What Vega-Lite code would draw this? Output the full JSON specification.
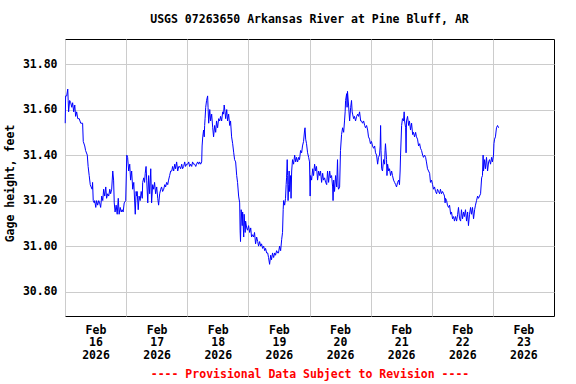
{
"$schema": "https://vega.github.io/schema/vega-lite/v6.json",
"width": 489, "height": 277,
"autosize": {"type": "none"},
"padding": {"left": 65, "top": 39, "right": 22, "bottom": 68},
"background": "white",
"title": {"text": "USGS 07263650 Arkansas River at Pine Bluff, AR", "font": "DejaVu Sans Mono", "fontSize": 11.5, "fontWeight": "bold", "color": "black", "offset": 14, "anchor": "middle"},
"config": {"view": {"stroke": "black", "strokeWidth": 1}},
"data": {"values": [
{"t":"2026-02-16T00:05","v":31.54},{"t":"2026-02-16T00:15","v":31.66},{"t":"2026-02-16T00:40","v":31.66},{"t":"2026-02-16T01:05","v":31.69},{"t":"2026-02-16T01:15","v":31.64},{"t":"2026-02-16T01:25","v":31.59},{"t":"2026-02-16T01:50","v":31.64},{"t":"2026-02-16T02:15","v":31.63},{"t":"2026-02-16T02:40","v":31.61},{"t":"2026-02-16T03:00","v":31.63},{"t":"2026-02-16T03:25","v":31.59},{"t":"2026-02-16T03:50","v":31.62},{"t":"2026-02-16T04:10","v":31.57},{"t":"2026-02-16T04:35","v":31.59},{"t":"2026-02-16T05:00","v":31.56},{"t":"2026-02-16T05:35","v":31.56},{"t":"2026-02-16T06:10","v":31.54},{"t":"2026-02-16T06:55","v":31.54},{"t":"2026-02-16T07:10","v":31.46},{"t":"2026-02-16T07:45","v":31.44},{"t":"2026-02-16T08:05","v":31.42},{"t":"2026-02-16T08:45","v":31.40},{"t":"2026-02-16T09:05","v":31.35},{"t":"2026-02-16T09:30","v":31.31},{"t":"2026-02-16T09:55","v":31.27},{"t":"2026-02-16T10:15","v":31.26},{"t":"2026-02-16T10:40","v":31.25},{"t":"2026-02-16T10:50","v":31.28},{"t":"2026-02-16T11:05","v":31.20},{"t":"2026-02-16T11:30","v":31.19},{"t":"2026-02-16T11:40","v":31.20},{"t":"2026-02-16T12:05","v":31.17},{"t":"2026-02-16T12:25","v":31.20},{"t":"2026-02-16T12:50","v":31.18},{"t":"2026-02-16T13:15","v":31.20},{"t":"2026-02-16T13:35","v":31.19},{"t":"2026-02-16T14:00","v":31.17},{"t":"2026-02-16T14:25","v":31.22},{"t":"2026-02-16T14:50","v":31.20},{"t":"2026-02-16T15:10","v":31.25},{"t":"2026-02-16T15:35","v":31.22},{"t":"2026-02-16T16:00","v":31.26},{"t":"2026-02-16T16:20","v":31.21},{"t":"2026-02-16T16:45","v":31.23},{"t":"2026-02-16T17:10","v":31.22},{"t":"2026-02-16T17:35","v":31.25},{"t":"2026-02-16T17:55","v":31.23},{"t":"2026-02-16T18:20","v":31.25},{"t":"2026-02-16T18:45","v":31.33},{"t":"2026-02-16T19:05","v":31.29},{"t":"2026-02-16T19:20","v":31.19},{"t":"2026-02-16T19:40","v":31.15},{"t":"2026-02-16T20:05","v":31.18},{"t":"2026-02-16T20:30","v":31.14},{"t":"2026-02-16T20:55","v":31.21},{"t":"2026-02-16T21:15","v":31.14},{"t":"2026-02-16T21:40","v":31.17},{"t":"2026-02-16T22:05","v":31.15},{"t":"2026-02-16T22:25","v":31.16},{"t":"2026-02-16T22:50","v":31.15},{"t":"2026-02-16T23:15","v":31.19},{"t":"2026-02-16T23:50","v":31.20},
{"t":"2026-02-17T00:15","v":31.40},{"t":"2026-02-17T00:35","v":31.39},{"t":"2026-02-17T01:00","v":31.33},{"t":"2026-02-17T01:25","v":31.36},{"t":"2026-02-17T01:45","v":31.29},{"t":"2026-02-17T02:10","v":31.33},{"t":"2026-02-17T02:35","v":31.25},{"t":"2026-02-17T03:00","v":31.28},{"t":"2026-02-17T03:35","v":31.14},{"t":"2026-02-17T03:55","v":31.24},{"t":"2026-02-17T04:10","v":31.22},{"t":"2026-02-17T04:20","v":31.24},{"t":"2026-02-17T04:45","v":31.16},{"t":"2026-02-17T05:05","v":31.22},{"t":"2026-02-17T05:30","v":31.20},{"t":"2026-02-17T05:55","v":31.24},{"t":"2026-02-17T06:20","v":31.21},{"t":"2026-02-17T06:30","v":31.28},{"t":"2026-02-17T06:55","v":31.30},{"t":"2026-02-17T07:15","v":31.28},{"t":"2026-02-17T07:30","v":31.32},{"t":"2026-02-17T07:50","v":31.35},{"t":"2026-02-17T08:05","v":31.29},{"t":"2026-02-17T08:30","v":31.19},{"t":"2026-02-17T08:50","v":31.31},{"t":"2026-02-17T09:15","v":31.23},{"t":"2026-02-17T09:40","v":31.34},{"t":"2026-02-17T10:00","v":31.19},{"t":"2026-02-17T10:25","v":31.27},{"t":"2026-02-17T10:50","v":31.25},{"t":"2026-02-17T11:10","v":31.28},{"t":"2026-02-17T11:35","v":31.23},{"t":"2026-02-17T12:00","v":31.26},{"t":"2026-02-17T12:25","v":31.21},{"t":"2026-02-17T12:45","v":31.18},{"t":"2026-02-17T13:10","v":31.23},{"t":"2026-02-17T13:35","v":31.25},{"t":"2026-02-17T13:55","v":31.26},{"t":"2026-02-17T14:20","v":31.24},{"t":"2026-02-17T14:45","v":31.25},{"t":"2026-02-17T15:10","v":31.27},{"t":"2026-02-17T15:30","v":31.26},{"t":"2026-02-17T15:55","v":31.28},{"t":"2026-02-17T16:20","v":31.27},{"t":"2026-02-17T16:40","v":31.29},{"t":"2026-02-17T17:05","v":31.31},{"t":"2026-02-17T17:30","v":31.33},{"t":"2026-02-17T17:55","v":31.33},{"t":"2026-02-17T18:15","v":31.35},{"t":"2026-02-17T18:40","v":31.33},{"t":"2026-02-17T19:05","v":31.36},{"t":"2026-02-17T19:25","v":31.34},{"t":"2026-02-17T19:50","v":31.37},{"t":"2026-02-17T20:15","v":31.33},{"t":"2026-02-17T20:40","v":31.35},{"t":"2026-02-17T21:00","v":31.35},{"t":"2026-02-17T21:25","v":31.34},{"t":"2026-02-17T21:50","v":31.36},{"t":"2026-02-17T22:10","v":31.34},{"t":"2026-02-17T22:35","v":31.35},{"t":"2026-02-17T23:00","v":31.37},{"t":"2026-02-17T23:20","v":31.35},{"t":"2026-02-17T23:45","v":31.36},
{"t":"2026-02-18T00:10","v":31.36},{"t":"2026-02-18T00:35","v":31.37},{"t":"2026-02-18T00:55","v":31.35},{"t":"2026-02-18T01:20","v":31.36},{"t":"2026-02-18T01:45","v":31.35},{"t":"2026-02-18T02:05","v":31.37},{"t":"2026-02-18T02:30","v":31.36},{"t":"2026-02-18T02:55","v":31.36},{"t":"2026-02-18T03:20","v":31.35},{"t":"2026-02-18T03:40","v":31.36},{"t":"2026-02-18T04:05","v":31.37},{"t":"2026-02-18T04:30","v":31.36},{"t":"2026-02-18T04:50","v":31.37},{"t":"2026-02-18T05:15","v":31.36},{"t":"2026-02-18T05:40","v":31.37},{"t":"2026-02-18T05:50","v":31.44},{"t":"2026-02-18T06:05","v":31.48},{"t":"2026-02-18T06:25","v":31.51},{"t":"2026-02-18T06:40","v":31.48},{"t":"2026-02-18T06:50","v":31.53},{"t":"2026-02-18T07:00","v":31.56},{"t":"2026-02-18T07:15","v":31.61},{"t":"2026-02-18T07:35","v":31.64},{"t":"2026-02-18T08:00","v":31.66},{"t":"2026-02-18T08:10","v":31.61},{"t":"2026-02-18T08:25","v":31.54},{"t":"2026-02-18T08:50","v":31.60},{"t":"2026-02-18T09:10","v":31.55},{"t":"2026-02-18T09:35","v":31.58},{"t":"2026-02-18T10:00","v":31.52},{"t":"2026-02-18T10:20","v":31.48},{"t":"2026-02-18T10:45","v":31.53},{"t":"2026-02-18T11:10","v":31.50},{"t":"2026-02-18T11:30","v":31.55},{"t":"2026-02-18T11:55","v":31.52},{"t":"2026-02-18T12:20","v":31.56},{"t":"2026-02-18T12:45","v":31.55},{"t":"2026-02-18T13:05","v":31.57},{"t":"2026-02-18T13:30","v":31.55},{"t":"2026-02-18T13:55","v":31.59},{"t":"2026-02-18T14:15","v":31.58},{"t":"2026-02-18T14:30","v":31.62},{"t":"2026-02-18T14:50","v":31.59},{"t":"2026-02-18T15:05","v":31.56},{"t":"2026-02-18T15:30","v":31.60},{"t":"2026-02-18T15:50","v":31.55},{"t":"2026-02-18T16:15","v":31.58},{"t":"2026-02-18T16:40","v":31.53},{"t":"2026-02-18T17:00","v":31.55},{"t":"2026-02-18T17:25","v":31.48},{"t":"2026-02-18T17:50","v":31.45},{"t":"2026-02-18T18:15","v":31.41},{"t":"2026-02-18T18:35","v":31.38},{"t":"2026-02-18T19:00","v":31.37},{"t":"2026-02-18T19:25","v":31.31},{"t":"2026-02-18T19:45","v":31.28},{"t":"2026-02-18T20:10","v":31.22},{"t":"2026-02-18T20:35","v":31.19},{"t":"2026-02-18T20:45","v":31.07},{"t":"2026-02-18T20:55","v":31.02},{"t":"2026-02-18T21:10","v":31.16},{"t":"2026-02-18T21:35","v":31.09},{"t":"2026-02-18T21:45","v":31.15},{"t":"2026-02-18T22:10","v":31.04},{"t":"2026-02-18T22:20","v":31.14},{"t":"2026-02-18T22:45","v":31.06},{"t":"2026-02-18T22:55","v":31.11},{"t":"2026-02-18T23:20","v":31.08},{"t":"2026-02-18T23:40","v":31.07},
{"t":"2026-02-19T00:05","v":31.09},{"t":"2026-02-19T00:30","v":31.06},{"t":"2026-02-19T00:55","v":31.08},{"t":"2026-02-19T01:15","v":31.04},{"t":"2026-02-19T01:40","v":31.05},{"t":"2026-02-19T02:05","v":31.04},{"t":"2026-02-19T02:25","v":31.06},{"t":"2026-02-19T02:50","v":31.01},{"t":"2026-02-19T03:15","v":31.04},{"t":"2026-02-19T03:40","v":31.02},{"t":"2026-02-19T04:00","v":31.00},{"t":"2026-02-19T04:25","v":31.02},{"t":"2026-02-19T04:50","v":31.00},{"t":"2026-02-19T05:10","v":31.01},{"t":"2026-02-19T05:35","v":30.99},{"t":"2026-02-19T06:00","v":31.00},{"t":"2026-02-19T06:25","v":30.98},{"t":"2026-02-19T06:45","v":30.99},{"t":"2026-02-19T07:10","v":30.97},{"t":"2026-02-19T07:35","v":30.97},{"t":"2026-02-19T07:55","v":30.95},{"t":"2026-02-19T08:20","v":30.92},{"t":"2026-02-19T08:45","v":30.96},{"t":"2026-02-19T09:05","v":30.94},{"t":"2026-02-19T09:30","v":30.97},{"t":"2026-02-19T09:55","v":30.95},{"t":"2026-02-19T10:20","v":30.97},{"t":"2026-02-19T10:40","v":30.96},{"t":"2026-02-19T11:05","v":30.98},{"t":"2026-02-19T11:30","v":30.97},{"t":"2026-02-19T11:50","v":30.97},{"t":"2026-02-19T12:15","v":31.00},{"t":"2026-02-19T12:40","v":30.98},{"t":"2026-02-19T13:05","v":31.03},{"t":"2026-02-19T13:25","v":31.06},{"t":"2026-02-19T13:40","v":31.16},{"t":"2026-02-19T13:50","v":31.20},{"t":"2026-02-19T14:15","v":31.18},{"t":"2026-02-19T14:35","v":31.21},{"t":"2026-02-19T14:50","v":31.27},{"t":"2026-02-19T15:00","v":31.30},{"t":"2026-02-19T15:15","v":31.38},{"t":"2026-02-19T15:25","v":31.31},{"t":"2026-02-19T15:35","v":31.20},{"t":"2026-02-19T15:50","v":31.27},{"t":"2026-02-19T16:00","v":31.33},{"t":"2026-02-19T16:10","v":31.24},{"t":"2026-02-19T16:35","v":31.31},{"t":"2026-02-19T16:45","v":31.21},{"t":"2026-02-19T17:00","v":31.33},{"t":"2026-02-19T17:20","v":31.38},{"t":"2026-02-19T17:45","v":31.36},{"t":"2026-02-19T18:10","v":31.40},{"t":"2026-02-19T18:35","v":31.37},{"t":"2026-02-19T18:55","v":31.39},{"t":"2026-02-19T19:20","v":31.37},{"t":"2026-02-19T19:45","v":31.39},{"t":"2026-02-19T20:05","v":31.38},{"t":"2026-02-19T20:30","v":31.42},{"t":"2026-02-19T20:55","v":31.41},{"t":"2026-02-19T21:15","v":31.44},{"t":"2026-02-19T21:40","v":31.46},{"t":"2026-02-19T22:05","v":31.51},{"t":"2026-02-19T22:15","v":31.52},{"t":"2026-02-19T22:30","v":31.47},{"t":"2026-02-19T22:50","v":31.45},{"t":"2026-02-19T23:15","v":31.41},{"t":"2026-02-19T23:40","v":31.39},
{"t":"2026-02-20T00:00","v":31.37},{"t":"2026-02-20T00:15","v":31.22},{"t":"2026-02-20T00:25","v":31.31},{"t":"2026-02-20T00:50","v":31.29},{"t":"2026-02-20T01:15","v":31.34},{"t":"2026-02-20T01:35","v":31.31},{"t":"2026-02-20T02:00","v":31.36},{"t":"2026-02-20T02:25","v":31.33},{"t":"2026-02-20T02:45","v":31.35},{"t":"2026-02-20T03:10","v":31.29},{"t":"2026-02-20T03:35","v":31.33},{"t":"2026-02-20T04:00","v":31.31},{"t":"2026-02-20T04:20","v":31.33},{"t":"2026-02-20T04:45","v":31.28},{"t":"2026-02-20T05:10","v":31.32},{"t":"2026-02-20T05:30","v":31.29},{"t":"2026-02-20T05:55","v":31.30},{"t":"2026-02-20T06:20","v":31.28},{"t":"2026-02-20T06:45","v":31.27},{"t":"2026-02-20T07:05","v":31.33},{"t":"2026-02-20T07:30","v":31.28},{"t":"2026-02-20T07:55","v":31.33},{"t":"2026-02-20T08:15","v":31.30},{"t":"2026-02-20T08:40","v":31.31},{"t":"2026-02-20T09:05","v":31.26},{"t":"2026-02-20T09:15","v":31.20},{"t":"2026-02-20T09:30","v":31.29},{"t":"2026-02-20T09:50","v":31.24},{"t":"2026-02-20T10:15","v":31.31},{"t":"2026-02-20T10:40","v":31.26},{"t":"2026-02-20T11:00","v":31.38},{"t":"2026-02-20T11:15","v":31.26},{"t":"2026-02-20T11:25","v":31.25},{"t":"2026-02-20T11:50","v":31.26},{"t":"2026-02-20T12:10","v":31.42},{"t":"2026-02-20T12:35","v":31.49},{"t":"2026-02-20T13:00","v":31.52},{"t":"2026-02-20T13:25","v":31.50},{"t":"2026-02-20T13:45","v":31.55},{"t":"2026-02-20T14:00","v":31.59},{"t":"2026-02-20T14:10","v":31.64},{"t":"2026-02-20T14:35","v":31.67},{"t":"2026-02-20T14:45","v":31.61},{"t":"2026-02-20T14:55","v":31.68},{"t":"2026-02-20T15:20","v":31.62},{"t":"2026-02-20T15:45","v":31.55},{"t":"2026-02-20T16:10","v":31.61},{"t":"2026-02-20T16:30","v":31.64},{"t":"2026-02-20T16:45","v":31.59},{"t":"2026-02-20T16:55","v":31.58},{"t":"2026-02-20T17:20","v":31.56},{"t":"2026-02-20T17:40","v":31.57},{"t":"2026-02-20T18:05","v":31.55},{"t":"2026-02-20T18:30","v":31.57},{"t":"2026-02-20T18:55","v":31.58},{"t":"2026-02-20T19:15","v":31.57},{"t":"2026-02-20T19:40","v":31.59},{"t":"2026-02-20T20:05","v":31.55},{"t":"2026-02-20T20:25","v":31.55},{"t":"2026-02-20T20:50","v":31.54},{"t":"2026-02-20T21:15","v":31.55},{"t":"2026-02-20T21:40","v":31.53},{"t":"2026-02-20T22:00","v":31.52},{"t":"2026-02-20T22:25","v":31.53},{"t":"2026-02-20T22:50","v":31.51},{"t":"2026-02-20T23:10","v":31.48},{"t":"2026-02-20T23:35","v":31.47},{"t":"2026-02-20T23:55","v":31.45},
{"t":"2026-02-21T00:20","v":31.46},{"t":"2026-02-21T00:45","v":31.44},{"t":"2026-02-21T01:10","v":31.43},{"t":"2026-02-21T01:35","v":31.44},{"t":"2026-02-21T01:55","v":31.41},{"t":"2026-02-21T02:20","v":31.40},{"t":"2026-02-21T02:45","v":31.36},{"t":"2026-02-21T03:05","v":31.39},{"t":"2026-02-21T03:30","v":31.40},{"t":"2026-02-21T03:45","v":31.44},{"t":"2026-02-21T03:55","v":31.53},{"t":"2026-02-21T04:05","v":31.42},{"t":"2026-02-21T04:20","v":31.34},{"t":"2026-02-21T04:40","v":31.33},{"t":"2026-02-21T05:05","v":31.38},{"t":"2026-02-21T05:30","v":31.36},{"t":"2026-02-21T05:40","v":31.42},{"t":"2026-02-21T05:50","v":31.45},{"t":"2026-02-21T06:15","v":31.38},{"t":"2026-02-21T06:25","v":31.31},{"t":"2026-02-21T06:40","v":31.36},{"t":"2026-02-21T07:05","v":31.33},{"t":"2026-02-21T07:25","v":31.34},{"t":"2026-02-21T07:50","v":31.31},{"t":"2026-02-21T08:15","v":31.33},{"t":"2026-02-21T08:35","v":31.31},{"t":"2026-02-21T09:00","v":31.29},{"t":"2026-02-21T09:25","v":31.28},{"t":"2026-02-21T09:50","v":31.27},{"t":"2026-02-21T10:10","v":31.26},{"t":"2026-02-21T10:35","v":31.28},{"t":"2026-02-21T11:00","v":31.29},{"t":"2026-02-21T11:20","v":31.27},{"t":"2026-02-21T11:35","v":31.33},{"t":"2026-02-21T11:45","v":31.40},{"t":"2026-02-21T12:10","v":31.53},{"t":"2026-02-21T12:30","v":31.56},{"t":"2026-02-21T12:55","v":31.55},{"t":"2026-02-21T13:10","v":31.59},{"t":"2026-02-21T13:20","v":31.55},{"t":"2026-02-21T13:45","v":31.52},{"t":"2026-02-21T13:55","v":31.41},{"t":"2026-02-21T14:05","v":31.55},{"t":"2026-02-21T14:30","v":31.57},{"t":"2026-02-21T14:55","v":31.53},{"t":"2026-02-21T15:15","v":31.55},{"t":"2026-02-21T15:40","v":31.51},{"t":"2026-02-21T16:05","v":31.54},{"t":"2026-02-21T16:30","v":31.49},{"t":"2026-02-21T16:50","v":31.50},{"t":"2026-02-21T17:15","v":31.48},{"t":"2026-02-21T17:40","v":31.50},{"t":"2026-02-21T18:00","v":31.48},{"t":"2026-02-21T18:25","v":31.47},{"t":"2026-02-21T18:50","v":31.44},{"t":"2026-02-21T19:15","v":31.45},{"t":"2026-02-21T19:35","v":31.43},{"t":"2026-02-21T20:00","v":31.42},{"t":"2026-02-21T20:25","v":31.40},{"t":"2026-02-21T20:45","v":31.39},{"t":"2026-02-21T21:10","v":31.40},{"t":"2026-02-21T21:35","v":31.39},{"t":"2026-02-21T21:55","v":31.37},{"t":"2026-02-21T22:20","v":31.34},{"t":"2026-02-21T22:45","v":31.33},{"t":"2026-02-21T23:10","v":31.32},{"t":"2026-02-21T23:30","v":31.28},{"t":"2026-02-21T23:55","v":31.29},
{"t":"2026-02-22T00:20","v":31.27},{"t":"2026-02-22T00:40","v":31.25},{"t":"2026-02-22T01:05","v":31.26},{"t":"2026-02-22T01:30","v":31.24},{"t":"2026-02-22T01:55","v":31.23},{"t":"2026-02-22T02:15","v":31.25},{"t":"2026-02-22T02:40","v":31.24},{"t":"2026-02-22T03:05","v":31.23},{"t":"2026-02-22T03:25","v":31.25},{"t":"2026-02-22T03:50","v":31.23},{"t":"2026-02-22T04:15","v":31.24},{"t":"2026-02-22T04:40","v":31.23},{"t":"2026-02-22T05:00","v":31.22},{"t":"2026-02-22T05:15","v":31.19},{"t":"2026-02-22T05:25","v":31.21},{"t":"2026-02-22T05:50","v":31.20},{"t":"2026-02-22T06:10","v":31.18},{"t":"2026-02-22T06:35","v":31.17},{"t":"2026-02-22T07:00","v":31.18},{"t":"2026-02-22T07:25","v":31.14},{"t":"2026-02-22T07:45","v":31.15},{"t":"2026-02-22T08:10","v":31.12},{"t":"2026-02-22T08:35","v":31.13},{"t":"2026-02-22T08:55","v":31.11},{"t":"2026-02-22T09:20","v":31.13},{"t":"2026-02-22T09:45","v":31.11},{"t":"2026-02-22T10:10","v":31.14},{"t":"2026-02-22T10:30","v":31.17},{"t":"2026-02-22T10:55","v":31.12},{"t":"2026-02-22T11:20","v":31.11},{"t":"2026-02-22T11:40","v":31.16},{"t":"2026-02-22T12:05","v":31.12},{"t":"2026-02-22T12:30","v":31.15},{"t":"2026-02-22T12:50","v":31.13},{"t":"2026-02-22T13:15","v":31.16},{"t":"2026-02-22T13:40","v":31.11},{"t":"2026-02-22T14:05","v":31.15},{"t":"2026-02-22T14:25","v":31.09},{"t":"2026-02-22T14:50","v":31.14},{"t":"2026-02-22T15:15","v":31.17},{"t":"2026-02-22T15:35","v":31.14},{"t":"2026-02-22T16:00","v":31.17},{"t":"2026-02-22T16:25","v":31.12},{"t":"2026-02-22T16:50","v":31.16},{"t":"2026-02-22T17:10","v":31.18},{"t":"2026-02-22T17:35","v":31.20},{"t":"2026-02-22T18:00","v":31.22},{"t":"2026-02-22T18:20","v":31.21},{"t":"2026-02-22T18:45","v":31.22},{"t":"2026-02-22T19:10","v":31.23},{"t":"2026-02-22T19:35","v":31.30},{"t":"2026-02-22T19:55","v":31.31},{"t":"2026-02-22T20:10","v":31.40},{"t":"2026-02-22T20:20","v":31.33},{"t":"2026-02-22T20:45","v":31.38},{"t":"2026-02-22T21:05","v":31.34},{"t":"2026-02-22T21:30","v":31.39},{"t":"2026-02-22T21:55","v":31.33},{"t":"2026-02-22T22:20","v":31.37},{"t":"2026-02-22T22:40","v":31.38},{"t":"2026-02-22T23:05","v":31.36},{"t":"2026-02-22T23:30","v":31.39},{"t":"2026-02-22T23:50","v":31.37},
{"t":"2026-02-23T00:15","v":31.40},{"t":"2026-02-23T00:25","v":31.45},{"t":"2026-02-23T00:40","v":31.47},{"t":"2026-02-23T01:00","v":31.48},{"t":"2026-02-23T01:25","v":31.52},{"t":"2026-02-23T01:50","v":31.53},{"t":"2026-02-23T02:15","v":31.52}
]},
"mark": {"type": "line", "color": "#0000ff", "strokeWidth": 1, "interpolate": "linear"},
"encoding": {
"x": {"field": "t", "type": "temporal",
 "scale": {"domain": [{"year": 2026, "month": 2, "date": 16}, {"year": 2026, "month": 2, "date": 24}]},
 "axis": {"values": [{"year": 2026, "month": 2, "date": 16}, {"year": 2026, "month": 2, "date": 17}, {"year": 2026, "month": 2, "date": 18}, {"year": 2026, "month": 2, "date": 19}, {"year": 2026, "month": 2, "date": 20}, {"year": 2026, "month": 2, "date": 21}, {"year": 2026, "month": 2, "date": 22}, {"year": 2026, "month": 2, "date": 23}],
  "grid": true, "gridColor": "#cccccc", "gridWidth": 1, "ticks": false, "domain": false,
  "labelOffset": 30.5, "labelFlush": false, "labelOverlap": false, "labelBound": false,
  "labelExpr": "[timeFormat(datum.value, '%b'), timeFormat(datum.value, '%d'), timeFormat(datum.value, '%Y')]",
  "labelFont": "DejaVu Sans Mono", "labelFontSize": 11.5, "labelFontWeight": "bold", "labelColor": "black", "labelPadding": 8, "labelLineHeight": 12.5,
  "title": "---- Provisional Data Subject to Revision ----", "titleColor": "red", "titleFont": "DejaVu Sans Mono", "titleFontSize": 11.5, "titleFontWeight": "bold", "titlePadding": 8}},
"y": {"field": "v", "type": "quantitative",
 "scale": {"domain": [30.693, 31.91], "nice": false, "zero": false},
 "axis": {"values": [30.8, 31.0, 31.2, 31.4, 31.6, 31.8], "format": ".2f",
  "grid": true, "gridColor": "#cccccc", "gridWidth": 1, "ticks": false, "domain": false,
  "labelFont": "DejaVu Sans Mono", "labelFontSize": 11.5, "labelFontWeight": "bold", "labelColor": "black", "labelPadding": 8,
  "title": "Gage height, feet", "titleFont": "DejaVu Sans Mono", "titleFontSize": 11.5, "titleFontWeight": "bold", "titleColor": "black", "titleX": -50, "titleY": 144}}
}
}
